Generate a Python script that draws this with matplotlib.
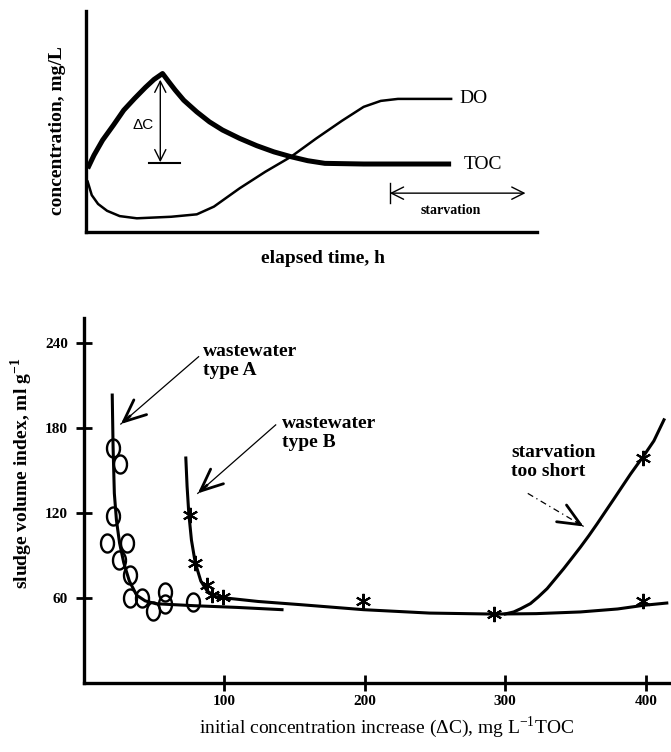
import matplotlib.pyplot as plt
import numpy as np
from matplotlib.path import Path

plt.rcParams["font.family"] = "Liberation Serif"
plt.rcParams["mathtext.fontset"] = "custom"
plt.rcParams["mathtext.rm"] = "Liberation Serif"
plt.rcParams["mathtext.bf"] = "Liberation Serif:bold"

# ---- top panel: schematic (arbitrary units) ----
toc_t = [0.4, 1.8, 3.7, 6.1, 8.4, 10.8, 13.2, 15.1, 17.0, 18.4, 19.8, 21.7, 24.6, 27.4,
         30.3, 34.1, 37.9, 41.7, 45.5, 49.2, 53.0, 61.6, 81.0]
toc_c = [28.8, 34.8, 41.6, 48.4, 55.2, 60.5, 65.5, 69.1, 71.8, 68.0, 64.3, 59.7, 54.4, 49.9,
         46.2, 42.4, 39.1, 36.3, 34.1, 32.3, 31.1, 30.8, 30.8]
do_t = [0.4, 1.3, 2.7, 4.7, 7.5, 11.3, 18.9, 24.6, 28.4, 34.1, 39.8, 45.5, 51.1, 56.8,
        61.6, 65.4, 69.2, 81.0]
do_c = [22.8, 16.7, 12.7, 9.6, 7.2, 6.2, 6.9, 8.0, 11.5, 19.8, 27.3, 34.1, 42.4, 50.4,
        56.7, 59.4, 60.3, 60.3]

# ---- bottom panel: SVI vs initial concentration increase ----
a_x = [20.9, 25.7, 20.9, 16.2, 30.4, 25.2, 32.8, 32.8, 41.0, 49.4, 57.7, 57.7, 77.5]
a_y = [166, 155, 118, 99, 99, 87, 76, 60, 60, 51, 64, 56, 57]
b_x = [75.5, 79.2, 87.7, 90.8, 99.3, 199, 291.8, 398, 398]
b_y = [119, 85, 69, 62, 61, 58, 49, 159, 58]

fit_a_x = [20.1, 20.7, 21.6, 23.1, 25.3, 28.3, 32.3, 37.5, 43.6, 51.2, 78.6, 109, 141]
fit_a_y = [203.5, 167, 134, 115, 99, 85, 72, 62, 58, 56, 54.6, 53.4, 51.8]
fit_b_x = [72.5, 73.4, 74.6, 76.5, 79.2, 83.2, 87.7, 93.8, 101.4, 124, 154.7, 199, 246,
           291.8, 322, 353.5, 380, 398.6, 415]
fit_b_y = [159, 139, 120, 101, 85, 72, 65, 61, 60, 57.6, 55.3, 51.8, 49.4, 48.7, 49,
           50.2, 52.3, 54.9, 56.5]
short_x = [300, 306, 311, 317.9, 323.5, 329.8, 335.5, 341.6, 347.5, 353.5, 359.5, 365.4,
           371.3, 377.3, 383.2, 389.2, 393.9, 398.6, 405.8, 413]
short_y = [48.8, 50.2, 52.5, 56.1, 60.8, 66.7, 73.5, 80.8, 88.3, 96, 104.1, 112.5,
           121.2, 130, 138.8, 147.7, 154.2, 160.6, 171.1, 186]

fig = plt.figure(figsize=(6.71, 7.52), dpi=100)

# ============ top panel ============
ax1 = fig.add_axes([0.128, 0.6915, 0.672, 0.2935])
ax1.set_xlim(0, 100)
ax1.set_ylim(0, 100)
for s in ["top", "right"]:
    ax1.spines[s].set_visible(False)
for s in ["left", "bottom"]:
    ax1.spines[s].set_linewidth(2.4)
ax1.set_xticks([])
ax1.set_yticks([])

ax1.plot(toc_t, toc_c, color="k", lw=3.6, solid_joinstyle="round", solid_capstyle="butt")
ax1.plot(do_t, do_c, color="k", lw=1.8, solid_joinstyle="round")

# delta C arrow
ax1.annotate("", xy=(16.5, 31.6), xytext=(16.5, 69.0),
             arrowprops=dict(arrowstyle="<->", lw=1.0, color="k", mutation_scale=20,
                             shrinkA=0, shrinkB=0))
ax1.plot([14.1, 20.8], [31.2, 31.2], color="k", lw=1.5)
ax1.text(12.6, 48.4, "ΔC", family="Liberation Sans", fontsize=11, ha="center", va="center")

ax1.text(82.9, 60.3, "DO", fontsize=14, ha="left", va="center")
ax1.text(83.8, 30.8, "TOC", fontsize=14, ha="left", va="center")

# starvation period
ax1.plot([67.4, 67.4], [13.1, 22.2], color="k", lw=1.0)
ax1.annotate("", xy=(97.5, 17.6), xytext=(67.4, 17.6),
             arrowprops=dict(arrowstyle="<->", lw=1.0, color="k", mutation_scale=22,
                             shrinkA=0, shrinkB=0))
ax1.text(80.9, 9.6, "starvation", fontsize=10, fontweight="bold", ha="center", va="center")

ax1.set_xlabel("elapsed time, h", fontsize=14, fontweight="bold", va="center")
ax1.xaxis.set_label_coords(0.525, -0.118)
ax1.set_ylabel("concentration, mg/L", fontsize=14, fontweight="bold", va="center")
ax1.yaxis.set_label_coords(-0.0625, 0.46)

# ============ bottom panel ============
ax2 = fig.add_axes([0.1252, 0.0918, 0.8748, 0.4854])
ax2.set_xlim(0, 418)
ax2.set_ylim(0, 258)
for s in ["top", "right"]:
    ax2.spines[s].set_visible(False)
for s in ["left", "bottom"]:
    ax2.spines[s].set_linewidth(2.4)
ax2.set_xticks([100, 200, 300, 400])
ax2.set_yticks([60, 120, 180, 240])
ax2.tick_params(direction="inout", length=11, width=2.0)
ax2.tick_params(axis="x", pad=3)
ax2.tick_params(axis="y", pad=6)
for lab in ax2.get_xticklabels() + ax2.get_yticklabels():
    lab.set_fontsize(11)
    lab.set_fontweight("bold")

ax2.plot(fit_a_x, fit_a_y, color="k", lw=2.2, solid_joinstyle="round")
ax2.plot(fit_b_x, fit_b_y, color="k", lw=2.2, solid_joinstyle="round")
ax2.plot(short_x, short_y, color="k", lw=2.2, solid_joinstyle="round")

th = np.linspace(0, 2 * np.pi, 60)
oval = Path(np.column_stack([0.72 * np.cos(th), np.sin(th)]))
ax2.plot(a_x, a_y, linestyle="none", marker=oval, markersize=13, mfc="none",
         mec="k", mew=1.7)
ax2.plot(b_x, b_y, linestyle="none", marker=(6, 2, 0), markersize=11, mec="k", mew=1.5)


def pointer(ax, start, end, ls="-"):
    ax.plot([start[0], end[0]], [start[1], end[1]], color="k", lw=0.9, linestyle=ls)
    back = (end[0] + 0.12 * (start[0] - end[0]), end[1] + 0.12 * (start[1] - end[1]))
    ax.annotate("", xy=end, xytext=back,
                arrowprops=dict(arrowstyle="->,head_length=0.8,head_width=0.35", lw=2.0,
                                color="k", mutation_scale=20, shrinkA=0, shrinkB=0))


pointer(ax2, (81.6, 230.6), (26.2, 183))
pointer(ax2, (136.5, 182.4), (81.0, 134))
pointer(ax2, (316, 134), (355.8, 110.6), ls=(0, (5, 3, 1, 3)))

ax2.text(84.7, 227.8, "wastewater\ntype A", fontsize=14, fontweight="bold",
         ha="left", va="center", linespacing=1.15)
ax2.text(141, 176.5, "wastewater\ntype B", fontsize=14, fontweight="bold",
         ha="left", va="center", linespacing=1.15)
ax2.text(304, 156.5, "starvation\ntoo short", fontsize=14, fontweight="bold",
         ha="left", va="center", linespacing=1.15)

ax2.set_xlabel(r"initial concentration increase (ΔC), mg L$^{-1}$TOC", fontsize=14,
               va="center")
ax2.xaxis.set_label_coords(0.516, -0.122)
ax2.set_ylabel(r"sludge volume index, ml g$^{\mathbf{-1}}$", fontsize=14,
               fontweight="bold", va="center")
ax2.yaxis.set_label_coords(-0.1056, 0.575)

fig.savefig("out.png", dpi=100)
